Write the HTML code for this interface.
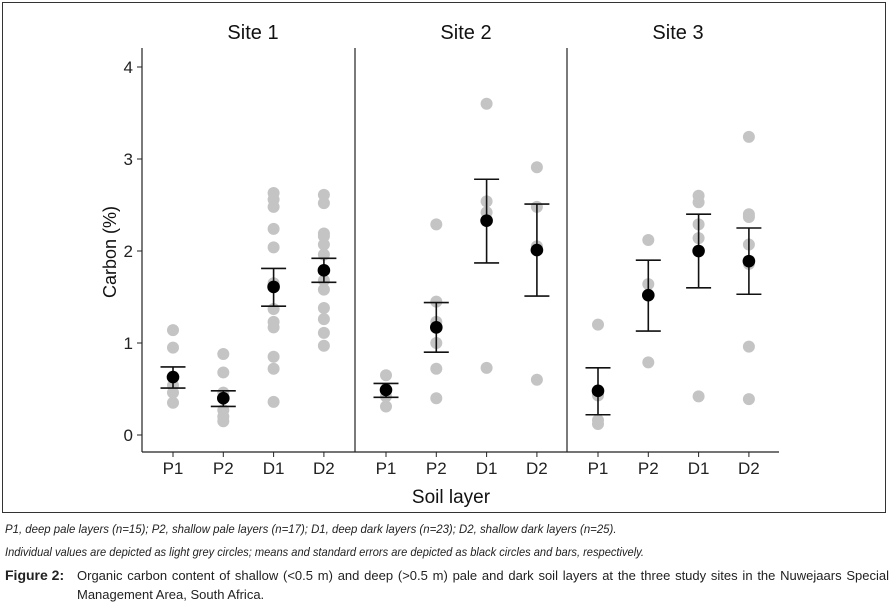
<!DOCTYPE html>
<html><head><meta charset="utf-8"><style>
body{margin:0;background:#fff;width:892px;height:604px;overflow:hidden;font-family:"Liberation Sans",sans-serif}
.cap{position:absolute;font-size:12px;color:#222;white-space:nowrap;transform-origin:0 0}
</style></head><body>
<svg id="chart" width="892" height="516" style="position:absolute;left:0;top:0" font-family="Liberation Sans, sans-serif"></svg>
<div class="cap" style="left:5px;top:522px;font-style:italic;transform:scaleX(0.95)">P1, deep pale layers (n=15); P2, shallow pale layers (n=17); D1, deep dark layers (n=23); D2, shallow dark layers (n=25).</div>
<div class="cap" style="left:5px;top:545px;font-style:italic;transform:scaleX(0.925)">Individual values are depicted as light grey circles; means and standard errors are depicted as black circles and bars, respectively.</div>
<div class="cap" style="left:5px;top:566px;font-size:13px;line-height:19px;white-space:normal;width:884px"><span style="position:absolute;left:0;font-weight:bold;font-size:14px">Figure 2:</span><div style="margin-left:72px;text-align:justify">Organic carbon content of shallow (&lt;0.5 m) and deep (&gt;0.5 m) pale and dark soil layers at the three study sites in the Nuwejaars Special Management Area, South Africa.</div></div>
<script>
const sites=["Site 1","Site 2","Site 3"];
const layers=["P1","P2","D1","D2"];
const yTicks=[0,1,2,3,4];
const raw=[
 [[1.14,0.95,0.54,0.46,0.35],[0.88,0.68,0.46,0.27,0.2,0.15],[2.63,2.56,2.48,2.24,2.04,1.65,1.37,1.23,1.17,0.85,0.72,0.36],[2.61,2.52,2.19,2.16,2.07,1.96,1.68,1.58,1.38,1.26,1.11,0.97]],
 [[0.65,0.42,0.31],[2.29,1.45,1.23,1.0,0.72,0.40],[3.6,2.54,2.42,0.73],[2.91,2.48,2.05,0.60]],
 [[1.2,0.43,0.16,0.12],[2.12,1.64,0.79],[2.6,2.53,2.29,2.14,0.42],[3.24,2.40,2.37,2.07,1.86,0.96,0.39]]
];
const means=[[0.63,0.40,1.61,1.79],[0.49,1.17,2.33,2.01],[0.48,1.52,2.0,1.89]];
const seHi=[[0.74,0.48,1.81,1.92],[0.56,1.44,2.78,2.51],[0.73,1.90,2.40,2.25]];
const seLo=[[0.51,0.31,1.40,1.66],[0.41,0.90,1.87,1.51],[0.22,1.13,1.60,1.53]];
const svg=document.getElementById('chart');const NS="http://www.w3.org/2000/svg";
function mk(t,a,p){const e=document.createElementNS(NS,t);for(const k in a)e.setAttribute(k,a[k]);(p||svg).appendChild(e);return e;}
const y=v=>435-v*92;
const panelL=[142,355,567],panelW=212;
const x=(s,i)=>panelL[s]+31+i*50.3;
let fr=mk('rect',{x:2.5,y:2.5,width:883,height:510,fill:'none',stroke:'#333','stroke-width':1});


let ya=mk('line',{x1:142,y1:48,x2:142,y2:452,stroke:'#222','stroke-width':1.2});


yTicks.forEach(t=>{
 let l=mk('line',{x1:137,x2:142,y1:y(t),y2:y(t),stroke:'#222'});
 
 
 let tx=mk('text',{x:133,y:y(t)+6,'text-anchor':'end','font-size':17,fill:'#222'});tx.textContent=t;
 
 
});
let yt=mk('text',{x:0,y:0,transform:'translate(116,252) rotate(-90)','text-anchor':'middle','font-size':18,fill:'#111'});yt.textContent='Carbon (%)';


let xa=mk('line',{x1:142,y1:452,x2:779,y2:452,stroke:'#222','stroke-width':1.2});


[355,567].forEach(px=>{let d=mk('line',{x1:px,x2:px,y1:48,y2:452,stroke:'#222','stroke-width':1.2});
 
 });
let xt=mk('text',{x:451,y:503,'text-anchor':'middle','font-size':19,fill:'#111'});xt.textContent='Soil layer';


sites.forEach((s,si)=>{
 let st=mk('text',{x:panelL[si]+panelW/2+5,y:39,'text-anchor':'middle','font-size':20,fill:'#111'});st.textContent=s;
 
 
 layers.forEach((L,i)=>{
  const cx=x(si,i);
  let tk=mk('line',{x1:cx,x2:cx,y1:452,y2:457,stroke:'#222'});
  
  
  let tl=mk('text',{x:cx,y:474,'text-anchor':'middle','font-size':17,fill:'#222'});tl.textContent=L;
  
  
  raw[si][i].forEach(v=>{let c=mk('circle',{cx:cx,cy:y(v),r:6,fill:'#c4c4c4'});
   
   });
  const g=mk('g',{stroke:'#111','stroke-width':1.6});
  
  
  mk('line',{x1:cx,x2:cx,y1:y(seHi[si][i]),y2:y(seLo[si][i])},g);
  mk('line',{x1:cx-12.5,x2:cx+12.5,y1:y(seHi[si][i]),y2:y(seHi[si][i])},g);
  mk('line',{x1:cx-12.5,x2:cx+12.5,y1:y(seLo[si][i]),y2:y(seLo[si][i])},g);
  let m=mk('circle',{cx:cx,cy:y(means[si][i]),r:6.3,fill:'#000'});
  
  
 });
});
</script>
</body></html>
